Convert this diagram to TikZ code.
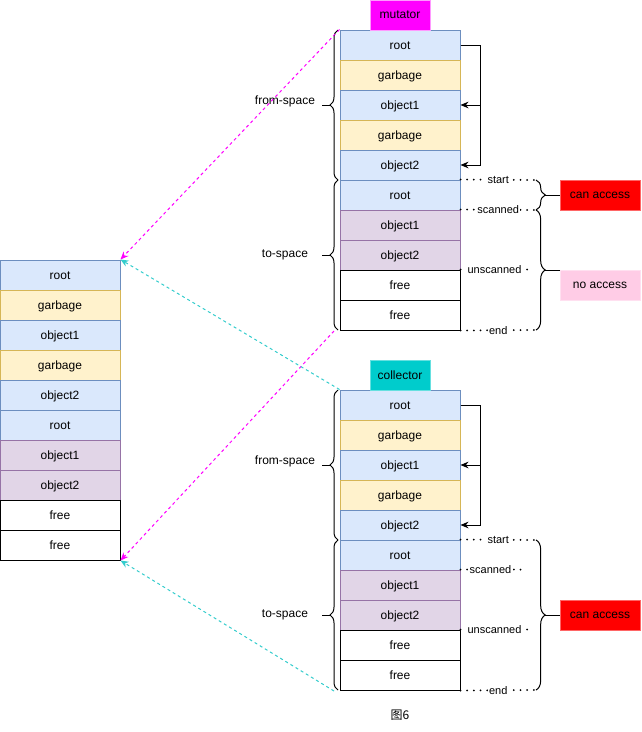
\documentclass[tikz,border=0pt]{standalone}
\usepackage{fontspec}
\setmainfont{Liberation Sans}
\newfontfamily\cjkfont{Noto Sans CJK SC}
\usetikzlibrary{positioning, arrows.meta, decorations.pathreplacing}

\definecolor{liveFill}{HTML}{DAE8FC}
\definecolor{liveLine}{HTML}{6C8EBF}
\definecolor{deadFill}{HTML}{FFF2CC}
\definecolor{deadLine}{HTML}{D6B656}
\definecolor{copyFill}{HTML}{E1D5E7}
\definecolor{copyLine}{HTML}{9673A6}
\definecolor{mutFill}{HTML}{FF00FF}
\definecolor{mutLine}{HTML}{FF99FF}
\definecolor{colFill}{HTML}{00CCCC}
\definecolor{colLine}{HTML}{66E0E0}
\definecolor{canFill}{HTML}{FF0000}
\definecolor{canLine}{HTML}{FF6666}
\definecolor{noFill}{HTML}{FFCCE6}
\definecolor{noLine}{HTML}{FFE0F0}
\definecolor{cyanRef}{HTML}{33CCCC}

\begin{document}
\begin{tikzpicture}[x=0.75pt, y=-0.75pt,
		font=\fontsize{9}{11}\selectfont,
		cell/.style={draw, minimum width=90pt, minimum height=22.5pt, inner sep=0pt, line width=0.75pt, text height=1.6ex, text depth=0.25ex},
		live/.style={cell, fill=liveFill, draw=liveLine},
		dead/.style={cell, fill=deadFill, draw=deadLine},
		copied/.style={cell, fill=copyFill, draw=copyLine},
		emptycell/.style={cell, fill=white, draw=black},
		rolebox/.style={minimum width=45pt, minimum height=22.5pt, inner sep=0pt, line width=0.75pt},
		accessbox/.style={minimum width=60pt, minimum height=22.5pt, inner sep=0pt, line width=0.75pt},
		lbrace/.style={decorate, decoration={brace, amplitude=6pt}, line width=0.75pt},
		rbrace/.style={decorate, decoration={brace, amplitude=7pt}, line width=0.75pt},
		markline/.style={line cap=round, dash pattern=on 0pt off 5pt, line width=1.5pt},
		marktag/.style={fill=white, inner sep=1pt, font=\fontsize{8.25}{10}\selectfont},
		ptr/.style={-{Stealth[length=6pt, width=5pt]}, line width=0.75pt},
		mref/.style={draw=mutFill, dash pattern=on 2.25pt off 2.25pt, line width=0.75pt, -{Stealth[length=6pt, width=5pt]}},
		cref/.style={draw=cyanRef, dash pattern=on 2.25pt off 2.25pt, line width=0.75pt, -{Stealth[length=6pt, width=5pt]}}]
	\useasboundingbox (0,0) rectangle (642,732);
	\def\heaplist{root/live, garbage/dead, object1/live, garbage/dead, object2/live, root/live, object1/copied, object2/copied, free/emptycell, free/emptycell}
	
	% --- Heap columns ---
	\foreach \txt/\sty [count=\i] in \heaplist {
		\node[\sty] (h\i) at (60, 245+30*\i) {\txt};
		\node[\sty] (m\i) at (400, 15+30*\i) {\txt};
		\node[\sty] (c\i) at (400, 375+30*\i) {\txt};
	}
	
	% --- Roles ---
	\node[rolebox, fill=mutFill, draw=mutLine] (mut) at (400,15) {mutator};
	\node[rolebox, fill=colFill, draw=colLine] (col) at (400,375) {collector};
	
	% --- Mutator view ---
	\draw[lbrace] (338,180) -- (338,30);
	\draw[line width=0.75pt] (330,105) -- (322,105);
	\node (mfrom) at (285,101) {from-space};
	\draw[lbrace] (338,330) -- (338,180);
	\draw[line width=0.75pt] (330,255) -- (322,255);
	\node (mto) at (285,255) {to-space};
	
	\draw[ptr] (m1.east) -- ++(20,0) |- (m5.east);
	\draw[ptr] (m1.east) -- ++(20,0) |- (m3.east);
	
	\coordinate (mS) at (536,180);
	\coordinate (mN) at (536,210);
	\coordinate (mE) at (536,330);
	\draw[markline] (m6.north east) -- (mS) node[midway, marktag] (mstart) {start};
	\draw[markline] (m7.north east) -- (mN) node[midway, marktag] (mscan) {scanned};
	\draw[markline] (m9.north east) -- ++(68,0) node[midway, marktag] (munscan) {unscanned};
	\draw[markline] (m10.south east) -- (mE) node[midway, marktag] (mend) {end};
	
	\draw[rbrace] (mS) -- (mN);
	\draw[rbrace] (mN) -- (mE);
	\node[accessbox, fill=canFill, draw=canLine] (mcan) at (600,195) {can access};
	\node[accessbox, fill=noFill, draw=noLine] (mno) at (600,285) {no access};
	\coordinate (mtip1) at (545,195);
	\coordinate (mtip2) at (545,270);
	\draw[line width=0.75pt] (mtip1) -- (mcan.west);
	\draw[line width=0.75pt] (mtip2) -- (mno.west |- mtip2);
	
	% --- Collector view ---
	\draw[lbrace] (338,540) -- (338,390);
	\draw[line width=0.75pt] (330,465) -- (322,465);
	\node (cfrom) at (285,461) {from-space};
	\draw[lbrace] (338,690) -- (338,540);
	\draw[line width=0.75pt] (330,615) -- (322,615);
	\node (cto) at (285,615) {to-space};
	
	\draw[ptr] (c1.east) -- ++(20,0) |- (c5.east);
	\draw[ptr] (c1.east) -- ++(20,0) |- (c3.east);
	
	\coordinate (cS) at (536,540);
	\coordinate (cE) at (536,690);
	\draw[markline] (c6.north east) -- (cS) node[midway, marktag] (cstart) {start};
	\draw[markline] (c7.north east) -- ++(60,0) node[midway, marktag] (cscan) {scanned};
	\draw[markline] (c9.north east) -- ++(68,0) node[midway, marktag] (cunscan) {unscanned};
	\draw[markline] (c10.south east) -- (cE) node[midway, marktag] (cend) {end};
	
	\draw[rbrace] (cS) -- (cE);
	\node[accessbox, fill=canFill, draw=canLine] (ccan) at (600,615) {can access};
	\coordinate (ctip) at (545,615);
	\draw[line width=0.75pt] (ctip) -- (ccan.west);
	
	% --- References into the heap ---
	\coordinate (mbot) at (334,331);
	\coordinate (cbot) at (334,691);
	\draw[mref] (m1.north west) -- (h1.north east);
	\draw[mref] (mbot) -- (h10.south east);
	\draw[cref] (c1.north west) -- (h1.north east);
	\draw[cref] (cbot) -- (h10.south east);
	
	\node[font=\cjkfont\fontsize{9}{11}\selectfont] (cap) at (400,715) {图6};
\end{tikzpicture}
\end{document}
